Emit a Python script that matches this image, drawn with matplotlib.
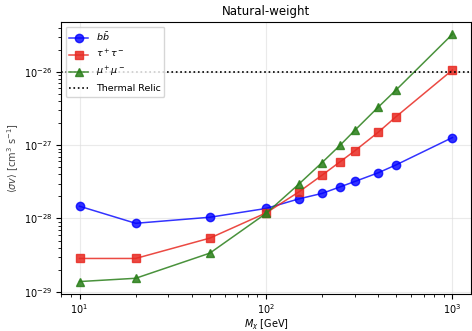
import numpy as np
import matplotlib
matplotlib.use('Agg')
import matplotlib.pyplot as plt

# 暗物质质量 (GeV)
masses = [10, 20, 50, 100, 150, 200, 250, 300, 400, 500, 1000]

# 各通道 <sigma v> 上限 (cm^3 s^-1)
sv_bb = [1.47e-28, 8.6e-29, 1.04e-28, 1.37e-28, 1.85e-28, 2.2e-28, 2.7e-28, 3.2e-28, 4.2e-28, 5.4e-28, 1.27e-27]
sv_tau = [2.85e-29, 2.85e-29, 5.4e-29, 1.19e-28, 2.3e-28, 3.9e-28, 5.95e-28, 8.4e-28, 1.5e-27, 2.46e-27, 1.06e-26]
sv_mu = [1.38e-29, 1.53e-29, 3.37e-29, 1.17e-28, 2.94e-28, 5.8e-28, 1.0e-27, 1.6e-27, 3.3e-27, 5.7e-27, 3.26e-26]

thermal_relic = 1e-26

fig = plt.figure(figsize=(4.72, 3.31), dpi=100)
ax = fig.add_axes([0.129, 0.112, 0.869, 0.822])

ax.plot(masses, sv_bb, color='#0000ff', marker='o', markersize=6, lw=1.1, alpha=0.8, label=r'$b\bar{b}$')
ax.plot(masses, sv_tau, color='#e82a22', marker='s', markersize=6, lw=1.1, alpha=0.85, label=r'$\tau^+\tau^-$')
ax.plot(masses, sv_mu, color='#2a7f1a', marker='^', markersize=6, lw=1.1, alpha=0.85, label=r'$\mu^+\mu^-$')
ax.axhline(thermal_relic, color='black', ls=':', lw=1.2, label='Thermal Relic')

ax.set_xscale('log')
ax.set_yscale('log')
ax.grid(True, which='major', color='#dddddd', lw=0.8, alpha=0.6)
ax.tick_params(labelsize=7, pad=2.5)

ax.set_title('Natural-weight', fontsize=8.5, pad=5)
ax.set_xlabel(r'$M_\chi$ [GeV]', fontsize=7, labelpad=1)
ax.set_ylabel(r'$\langle\sigma v\rangle$ [cm$^3$ s$^{-1}$]', fontsize=7, color='#444444', labelpad=2)
ax.legend(loc='upper left', fontsize=6.8)

fig.savefig('out.png', dpi=100)
